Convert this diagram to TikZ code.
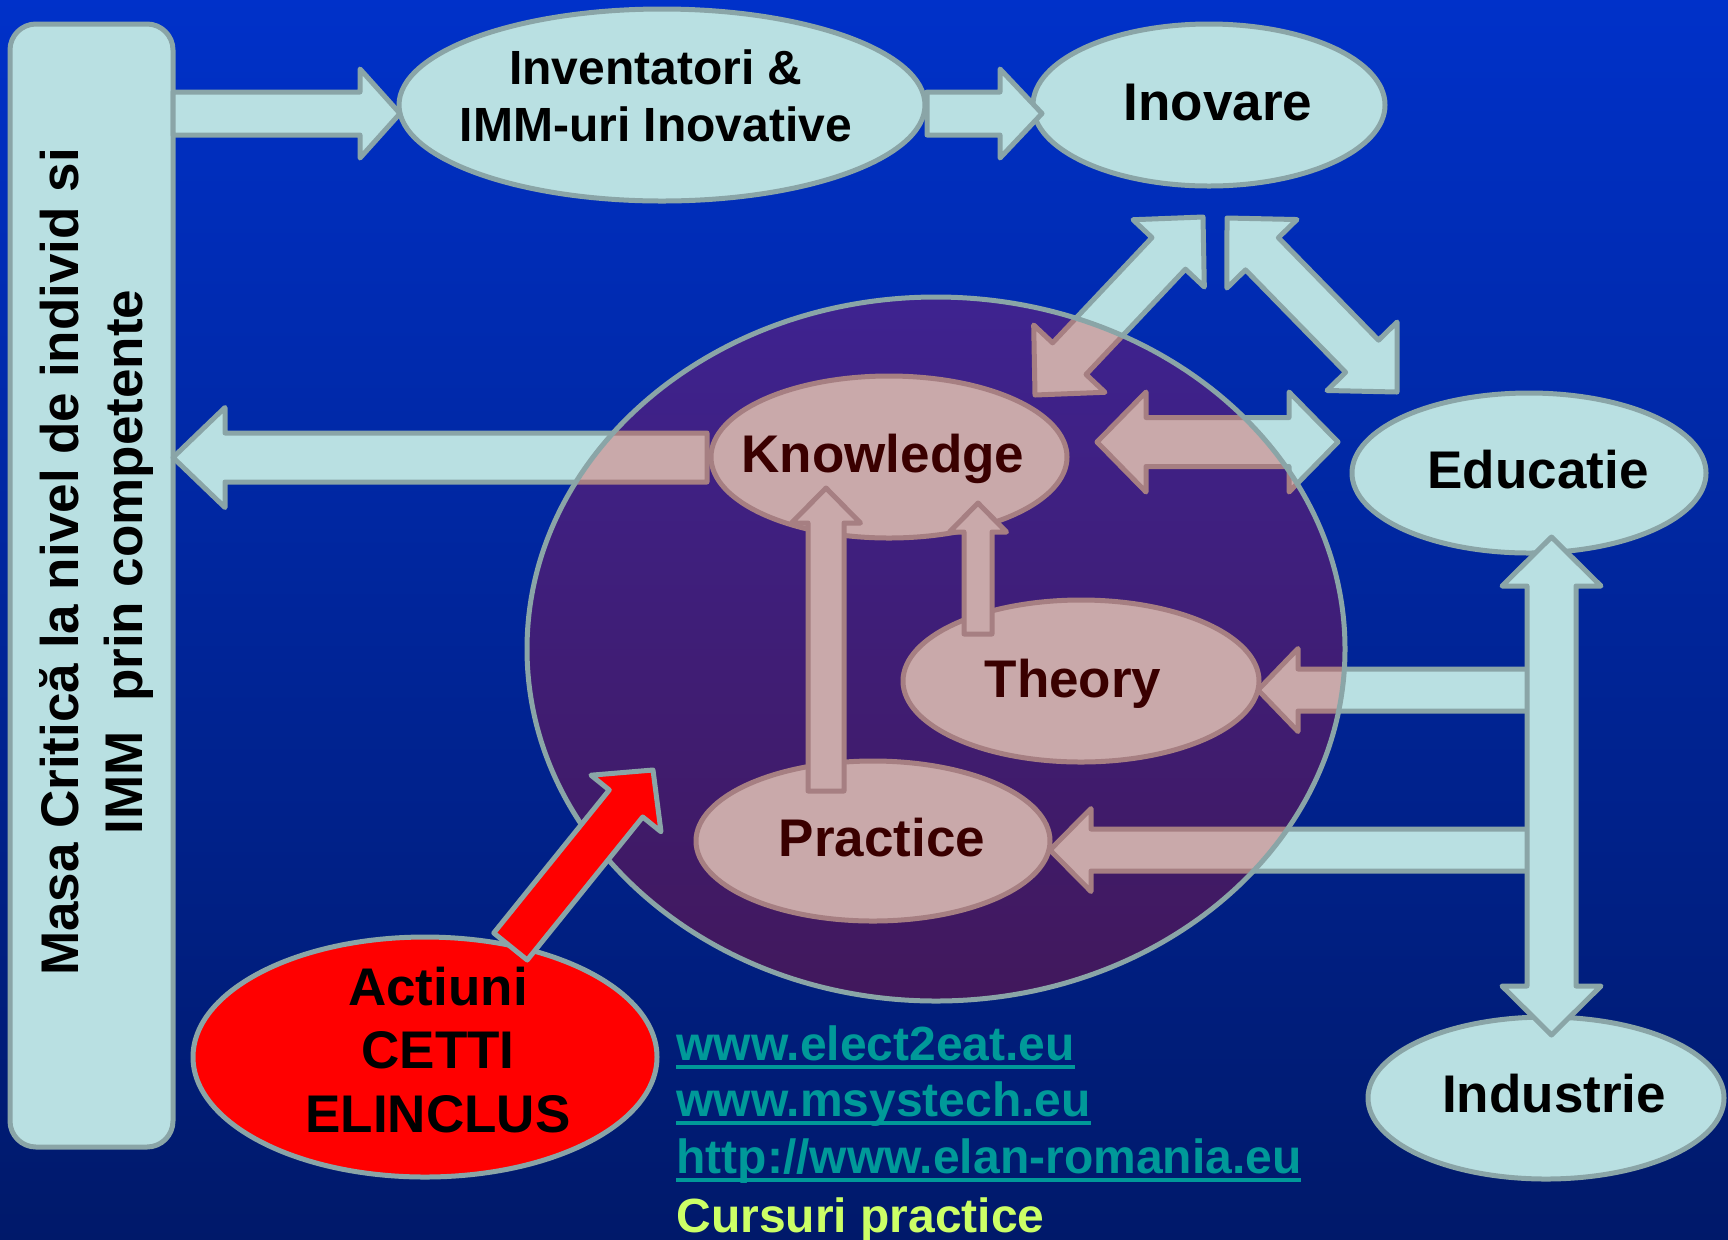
\documentclass[tikz,border=0pt]{standalone}
\usepackage{fontspec}
\setmainfont{Liberation Sans}
\usetikzlibrary{calc,shapes.geometric}

\definecolor{bgtop}{HTML}{0031C9}
\definecolor{bgbot}{HTML}{00196A}
\definecolor{cyanfill}{HTML}{B9E0E2}
\definecolor{cyanline}{HTML}{8AA5A7}
\definecolor{pinkfill}{HTML}{C9A9AA}
\definecolor{pinkline}{HTML}{A67F82}
\definecolor{circtop}{HTML}{3E2390}
\definecolor{circbot}{HTML}{41185C}
\definecolor{darkmaroon}{HTML}{3A0000}
\definecolor{urlcol}{HTML}{009999}
\definecolor{limecol}{HTML}{CCFF66}

\newcommand{\blockarr}[6]{%
  \coordinate (tmpH) at ($(#3)!#4!(#2)$);
  \draw[#1] ($(#2)!#5!90:(#3)$) -- ($(tmpH)!#5!90:(#3)$) -- ($(tmpH)!#6!90:(#3)$) -- (#3)
    -- ($(tmpH)!#6!-90:(#3)$) -- ($(tmpH)!#5!-90:(#3)$) -- ($(#2)!#5!-90:(#3)$) -- cycle;
}
\newcommand{\dblblockarr}[6]{%
  \coordinate (tmpA) at ($(#2)!#4!(#3)$);
  \coordinate (tmpB) at ($(#3)!#4!(#2)$);
  \draw[#1] (#2) -- ($(tmpA)!#6!90:(#3)$) -- ($(tmpA)!#5!90:(#3)$) -- ($(tmpB)!#5!90:(#3)$)
    -- ($(tmpB)!#6!90:(#3)$) -- (#3) -- ($(tmpB)!#6!-90:(#3)$) -- ($(tmpB)!#5!-90:(#3)$)
    -- ($(tmpA)!#5!-90:(#3)$) -- ($(tmpA)!#6!-90:(#3)$) -- cycle;
}
\newcommand{\ulink}[1]{{\setbox0\hbox{#1}\rlap{\rule[-4.5pt]{\wd0}{2pt}}\box0}}

\tikzset{
  cyanshape/.style={fill=cyanfill, draw=cyanline, line width=2.5pt, line join=round},
  pinkshape/.style={fill=pinkfill, draw=pinkline, line width=2.5pt, line join=round},
  redshape/.style={fill=red, draw=cyanline, line width=2.5pt, line join=round},
  oval/.style={ellipse, inner sep=0pt, outer sep=0pt},
  bigtext/.style={font=\fontsize{26.5pt}{32pt}\selectfont\bfseries},
  urltext/.style={font=\fontsize{24pt}{28pt}\selectfont\bfseries, inner sep=0pt},
}

\begin{document}
\begin{tikzpicture}[x=0.5pt, y=-0.5pt]
\useasboundingbox (0,0) rectangle (1728,1239);
\shade[top color=bgtop, bottom color=bgbot] (0,0) rectangle (1728,1239);

% left tall box
\node[rectangle, cyanshape, rounded corners=13pt, minimum width=81.5pt, minimum height=561.5pt, inner sep=0pt] (mass) at (91.5,585.5) {};

% cyan ellipses
\node[oval, cyanshape, minimum width=263pt, minimum height=96pt] (inv) at (662,105) {};
\node[oval, cyanshape, minimum width=176pt, minimum height=81pt] (inov) at (1209,105) {};
\node[oval, cyanshape, minimum width=177pt, minimum height=80pt] (edu) at (1529,473) {};
\node[oval, cyanshape, minimum width=178pt, minimum height=81pt] (ind) at (1546,1098) {};

% arrow end points
\coordinate (a1s) at (173,113.5);  \coordinate (a1e) at (400,113.5);
\coordinate (a2s) at (927,113.5);  \coordinate (a2e) at (1042,113.5);
\coordinate (a3s) at (707,457.5);  \coordinate (a3e) at (173,457.5);
\coordinate (a4s) at (1035,395);   \coordinate (a4e) at (1203,217);
\coordinate (a5s) at (1227,218);   \coordinate (a5e) at (1397,392);
\coordinate (a6s) at (1097,442);   \coordinate (a6e) at (1338,442);
\coordinate (a7s) at (1551.5,537); \coordinate (a7e) at (1551.5,1035);
\coordinate (a8s) at (1530,690);   \coordinate (a8e) at (1258,690);
\coordinate (a9s) at (1530,850);   \coordinate (a9e) at (1050,850);
\coordinate (a10s) at (826,791);   \coordinate (a10e) at (826,488);
\coordinate (a11s) at (978,634);   \coordinate (a11e) at (978,503);
\coordinate (a12s) at (510.5,946.5); \coordinate (a12e) at (653,770);

% cyan arrows
\blockarr{cyanshape}{a1s}{a1e}{20pt}{10.75pt}{22.25pt}
\blockarr{cyanshape}{a2s}{a2e}{21pt}{10.75pt}{22.25pt}
\blockarr{cyanshape}{a3s}{a3e}{26pt}{12.25pt}{25pt}
\dblblockarr{cyanshape}{a4s}{a4e}{25pt}{11.5pt}{24.5pt}
\dblblockarr{cyanshape}{a5s}{a5e}{25pt}{11.5pt}{24.5pt}
\dblblockarr{cyanshape}{a6s}{a6e}{24.5pt}{12.25pt}{25pt}
\blockarr{cyanshape}{a8s}{a8e}{20pt}{10.5pt}{20.75pt}
\blockarr{cyanshape}{a9s}{a9e}{20.5pt}{10.5pt}{20.75pt}
\dblblockarr{cyanshape}{a7s}{a7e}{24.5pt}{12.25pt}{24.75pt}

% big circle
\node[oval, minimum width=409pt, minimum height=352pt, top color=circtop, bottom color=circbot] (circ) at (936,649) {};
\begin{scope}
  \clip (circ.center) ellipse [x radius=204.5pt, y radius=176pt];
  \blockarr{pinkshape}{a3s}{a3e}{26pt}{12.25pt}{25pt}
  \dblblockarr{pinkshape}{a4s}{a4e}{25pt}{11.5pt}{24.5pt}
  \dblblockarr{pinkshape}{a6s}{a6e}{24.5pt}{12.25pt}{25pt}
  \blockarr{pinkshape}{a8s}{a8e}{20pt}{10.5pt}{20.75pt}
  \blockarr{pinkshape}{a9s}{a9e}{20.5pt}{10.5pt}{20.75pt}
\end{scope}
\draw[cyanline, line width=2.5pt] (circ.center) ellipse [x radius=204.5pt, y radius=176pt];

% pink ellipses
\node[oval, pinkshape, minimum width=178pt, minimum height=81pt] (know) at (889,457) {};
\node[oval, pinkshape, minimum width=178pt, minimum height=81pt] (theo) at (1081,681) {};
\node[oval, pinkshape, minimum width=177pt, minimum height=80pt] (prac) at (873,841) {};

\blockarr{pinkshape}{a10s}{a10e}{17.5pt}{9pt}{17.25pt}
\blockarr{pinkshape}{a11s}{a11e}{14.5pt}{7pt}{14.25pt}

% red ellipse and arrow
\node[oval, redshape, minimum width=232pt, minimum height=120pt] (act) at (425,1057) {};
\blockarr{redshape}{a12s}{a12e}{21.5pt}{10.75pt}{22.5pt}

% texts
\node[bigtext, rotate=90, align=center, inner sep=0pt] (masst) at (96.5,562)
  {Masa Critică la nivel de individ si\\IMM\ \ prin competente};
\node[font=\fontsize{24pt}{28.5pt}\selectfont\bfseries, align=center, inner sep=0pt] (invt) at (656,96)
  {Inventatori \&\\IMM-uri Inovative};
\node[bigtext, anchor=base, inner sep=0pt] (inovt) at (1218,120) {Inovare};
\node[bigtext, anchor=base, inner sep=0pt] (edut) at (1538,488) {Educatie};
\node[bigtext, anchor=base, inner sep=0pt] (indt) at (1554,1112) {Industrie};
\node[bigtext, anchor=base, inner sep=0pt, text=darkmaroon] (knowt) at (883,472) {Knowledge};
\node[bigtext, anchor=base, inner sep=0pt, text=darkmaroon] (theot) at (1073,697) {Theory};
\node[bigtext, anchor=base, inner sep=0pt, text=darkmaroon] (pract) at (882,856) {Practice};
\node[font=\fontsize{26.5pt}{31.75pt}\selectfont\bfseries, align=center, inner sep=0pt] (actt) at (438,1050)
  {Actiuni\\CETTI\\ELINCLUS};

\node[urltext, anchor=base west, text=urlcol] (url1) at (676,1060) {\ulink{www.elect2eat.eu}};
\node[urltext, anchor=base west, text=urlcol] (url2) at (676,1116) {\ulink{www.msystech.eu}};
\node[urltext, anchor=base west, text=urlcol] (url3) at (676,1173) {\ulink{http://www.elan-romania.eu}};
\node[urltext, anchor=base west, text=limecol] (url4) at (676,1232) {Cursuri practice};
\end{tikzpicture}
\end{document}
